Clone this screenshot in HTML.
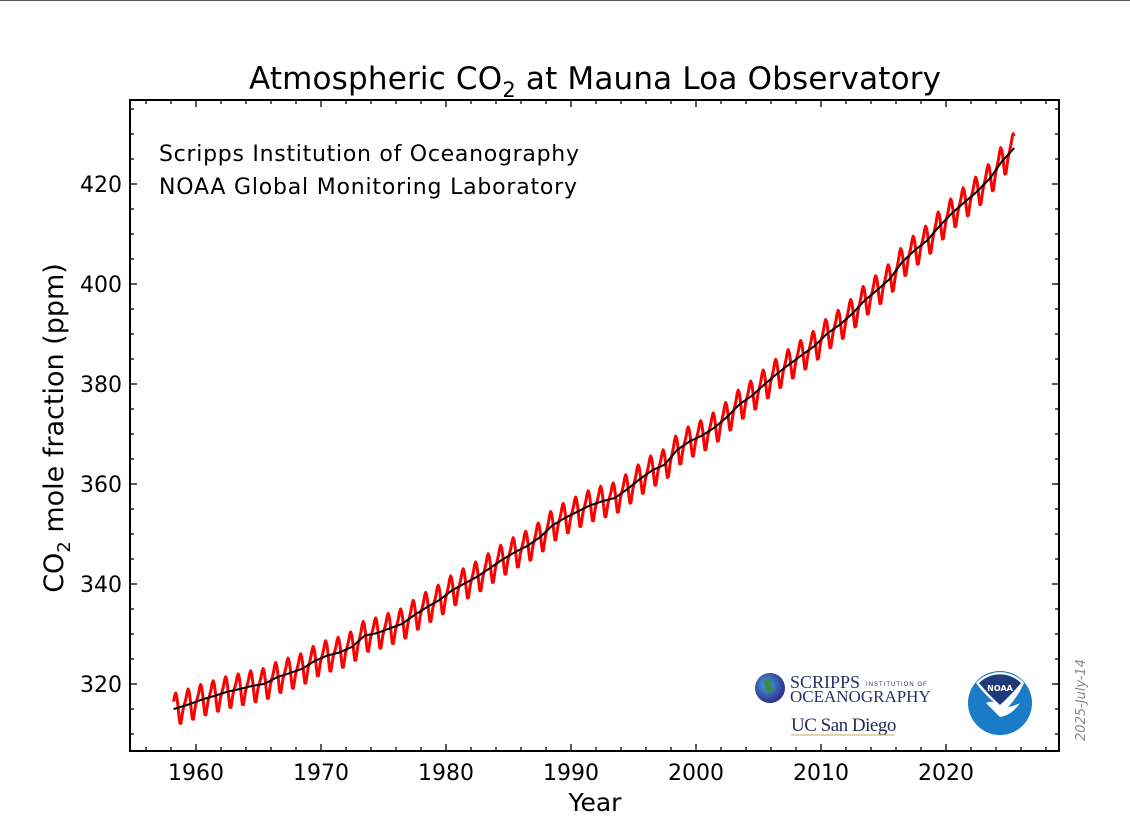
<!DOCTYPE html>
<html><head><meta charset="utf-8"><style>
body{margin:0;background:#fff;width:1130px;height:839px;overflow:hidden;font-family:"Liberation Sans","DejaVu Sans",sans-serif}
svg{display:block}
</style></head><body>
<svg id="chart" width="1130" height="839" viewBox="0 0 1130 839" xmlns="http://www.w3.org/2000/svg" font-family="'DejaVu Sans','Liberation Sans',sans-serif">
<line x1="0" y1="0.5" x2="1130" y2="0.5" stroke="#555" stroke-width="1"/>
<text x="595" y="89" font-size="31" text-anchor="middle" textLength="692">Atmospheric CO<tspan font-size="21" dy="8">2</tspan><tspan dy="-8"> at Mauna Loa Observatory</tspan></text>
<text x="159" y="161" font-size="22" textLength="420">Scripps Institution of Oceanography</text>
<text x="159" y="194" font-size="22" textLength="418">NOAA Global Monitoring Laboratory</text>
<text transform="translate(63,428) rotate(-90)" font-size="27" text-anchor="middle">CO<tspan font-size="18" dy="7">2</tspan><tspan dy="-7"> mole fraction (ppm)</tspan></text>
<text x="595" y="811" font-size="25" text-anchor="middle">Year</text>
<text transform="translate(1085,700) rotate(-90)" font-size="13" font-style="italic" fill="#888" text-anchor="middle">2025-July-14</text>
<g id="ticks"></g>
<g id="series"></g>
<rect x="130" y="100" width="929" height="651" fill="none" stroke="#000" stroke-width="2"/>
<g>
<defs><radialGradient id="gl" cx="0.4" cy="0.4" r="0.6"><stop offset="0" stop-color="#4aa3e0"/><stop offset="1" stop-color="#2a2f8a"/></radialGradient></defs>
<circle cx="770" cy="688" r="15" fill="url(#gl)"/>
<path d="M764 680 q5 -3 8 2 q-2 5 2 8 q-3 5 -6 2 q-4 -5 -4 -12z" fill="#3a8a4a"/>
<text x="790" y="688" font-family="'Liberation Serif',serif" font-size="18" fill="#2b2e6a">SCRIPPS</text>
<text x="866" y="686" font-family="'Liberation Sans',sans-serif" font-size="6" fill="#2b2e6a" letter-spacing="1">INSTITUTION OF</text>
<text x="790" y="702" font-family="'Liberation Serif',serif" font-size="17" fill="#2b2e6a">OCEANOGRAPHY</text>
<text x="791" y="731" font-family="'Liberation Serif',serif" font-size="19" fill="#1f2d5a" letter-spacing="-0.5">UC San Diego</text>
<line x1="791" y1="735" x2="894" y2="735" stroke="#c8a95a" stroke-width="1"/>
</g>
<g>
<circle cx="1000" cy="703" r="32" fill="#1a7bc6"/>
<path d="M976 683 a32 32 0 0 1 48 0 l-4 8 q-6 10 -12 16 q6 -1 12 -4 q-8 12 -20 14 q-6 -6 -14 -14 q4 -2 8 -1 q-10 -8 -18 -19z" fill="#fff"/>
<path d="M979 683 a30 30 0 0 1 42 0 q-8 10 -21 22 q-13 -12 -21 -22z" fill="#1f3a7a"/>
<text x="1000" y="691" font-size="8" font-weight="bold" fill="#fff" text-anchor="middle">NOAA</text>
</g>
</svg>
<script>
const years=[1958,1959,1960,1961,1962,1963,1964,1965,1966,1967,1968,1969,1970,1971,1972,1973,1974,1975,1976,1977,1978,1979,1980,1981,1982,1983,1984,1985,1986,1987,1988,1989,1990,1991,1992,1993,1994,1995,1996,1997,1998,1999,2000,2001,2002,2003,2004,2005,2006,2007,2008,2009,2010,2011,2012,2013,2014,2015,2016,2017,2018,2019,2020,2021,2022,2023,2024,2025];
const annualMean=[315.2,315.98,316.91,317.64,318.45,318.99,319.62,320.04,321.37,322.18,323.05,324.62,325.68,326.32,327.46,329.68,330.19,331.13,332.03,333.84,335.41,336.84,338.76,340.12,341.48,343.15,344.87,346.35,347.61,349.31,351.69,353.20,354.45,355.70,356.54,357.21,358.96,360.97,362.74,363.88,366.84,368.54,369.71,371.32,373.45,375.98,377.70,379.98,382.09,384.02,385.83,387.64,390.10,391.85,394.06,396.74,398.81,401.01,404.41,406.76,408.72,411.65,414.21,416.41,418.53,421.08,424.61,427.3];
const seasonal=[0.0,0.7,1.5,2.6,3.1,2.4,0.8,-1.4,-3.2,-3.3,-2.0,-0.7];
const xTicks=[1960,1970,1980,1990,2000,2010,2020];
const yTicks=[320,340,360,380,400,420];
const X0=1954.72,X1=2029.04,Y0=306.6,Y1=436.8;
const xs=v=>130+(v-X0)/(X1-X0)*929;
const ys=v=>751-(v-Y0)/(Y1-Y0)*651;
const NS="http://www.w3.org/2000/svg";
const tg=document.getElementById('ticks'),sg=document.getElementById('series');
function mk(tag,attrs,parent){const e=document.createElementNS(NS,tag);for(const k in attrs)e.setAttribute(k,attrs[k]);parent.appendChild(e);return e;}
for(let y=1956;y<=2028;y+=2){const x=xs(y),maj=y%10===0,L=maj?7:4;
 const t=mk('line',{x1:x,x2:x,y1:751,y2:751-L,stroke:'#000','stroke-width':1.3},tg);
 
 
 const t2=mk('line',{x1:x,x2:x,y1:100,y2:100+L,stroke:'#000','stroke-width':1.3},tg);
 
 }
xTicks.forEach(v=>{const t=mk('text',{x:xs(v),y:780,'font-size':22,'text-anchor':'middle'},tg);t.textContent=v;
 
 });
for(let v=310;v<=435;v+=5){const y=ys(v),maj=v%20===0,L=maj?7:4;
 const t=mk('line',{x1:130,x2:130+L,y1:y,y2:y,stroke:'#000','stroke-width':1.3},tg);
 
 
 const t2=mk('line',{x1:1059,x2:1059-L,y1:y,y2:y,stroke:'#000','stroke-width':1.3},tg);
 
 }
yTicks.forEach(v=>{const t=mk('text',{x:122,y:ys(v)+8,'font-size':22,'text-anchor':'end'},tg);t.textContent=v;
 
 });
function trend(t){const c=t-0.5;let i=Math.floor(c-years[0]);
 if(i<0)i=0;if(i>years.length-2)i=years.length-2;
 const f=c-years[i];return annualMean[i]+(annualMean[i+1]-annualMean[i])*f;}
let red=[],blk=[];
years.forEach(y=>{for(let m=0;m<12;m++){const t=y+(m+0.5)/12;if(t<1958.2||t>2025.5)continue;
 const tr=trend(t);red.push([xs(t),ys(tr+seasonal[m])]);blk.push([xs(t),ys(tr)]);}});
const rp=mk('polyline',{points:red.map(p=>p.join(',')).join(' '),fill:'none',stroke:'#f00','stroke-width':3,'stroke-linejoin':'round'},sg);


const bp=mk('polyline',{points:blk.map(p=>p.join(',')).join(' '),fill:'none',stroke:'#000','stroke-width':2},sg);


</script>
</body></html>
